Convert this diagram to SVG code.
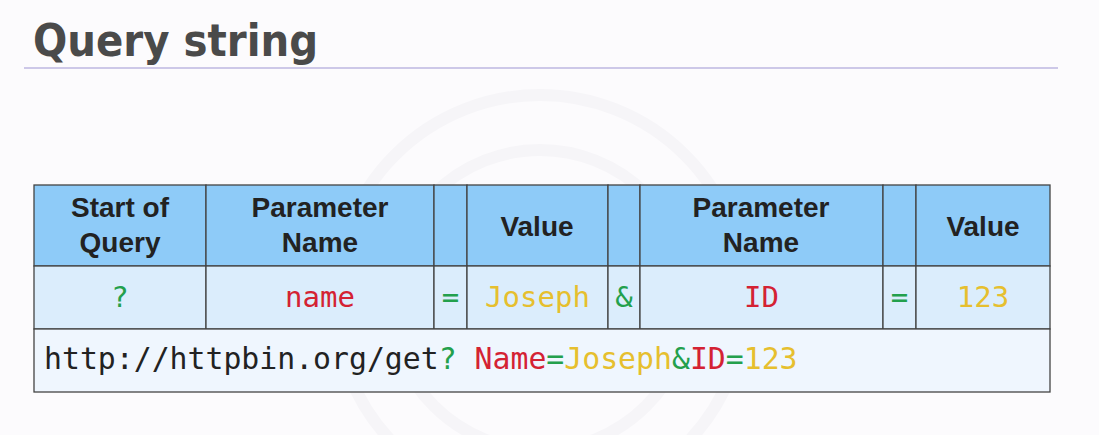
<svg xmlns="http://www.w3.org/2000/svg" width="1099" height="435" viewBox="0 0 1099 435">
<style>
.hd{font-family:"Liberation Sans",Arial,sans-serif;font-weight:bold;font-size:28px;fill:#222;text-anchor:middle}
.mono{font-family:"DejaVu Sans Mono","Liberation Mono",monospace;font-size:29px}
.c{text-anchor:middle}
.g{fill:#23a04c}.r{fill:#d42233}.y{fill:#e6bf2e}.k{fill:#222}
.cell{stroke:#444;stroke-width:1.3}
.h{fill:#8ecbf8}.b{fill:#dbedfc}.u{fill:#eff6fe}
</style>
<rect width="1099" height="435" fill="#fcfbfd"/>
<g id="watermark" fill="none" stroke="#f6f5f8" stroke-width="12">
<circle cx="540" cy="300" r="205"/>
<circle cx="540" cy="300" r="150"/>
</g>
<g id="title">
<text x="33" y="56" font-family="DejaVu Sans Condensed,'DejaVu Sans',sans-serif" font-weight="bold" font-size="44" fill="#4a4a4a" textLength="285" lengthAdjust="spacingAndGlyphs">Query string</text>
<line x1="24" y1="68" x2="1058" y2="68" stroke="#cdc8e8" stroke-width="2"/>
</g>
<g id="header">
<rect class="cell h" x="34" y="185" width="172" height="81"/>
<rect class="cell h" x="206" y="185" width="228" height="81"/>
<rect class="cell h" x="434" y="185" width="33" height="81"/>
<rect class="cell h" x="467" y="185" width="141" height="81"/>
<rect class="cell h" x="608" y="185" width="32" height="81"/>
<rect class="cell h" x="640" y="185" width="243" height="81"/>
<rect class="cell h" x="883" y="185" width="33" height="81"/>
<rect class="cell h" x="916" y="185" width="134" height="81"/>
<text class="hd" x="120" y="217">Start of</text>
<text class="hd" x="120" y="252">Query</text>
<text class="hd" x="320" y="217">Parameter</text>
<text class="hd" x="320" y="252">Name</text>
<text class="hd" x="537" y="236">Value</text>
<text class="hd" x="761" y="217">Parameter</text>
<text class="hd" x="761" y="252">Name</text>
<text class="hd" x="983" y="236">Value</text>
</g>
<g id="values">
<rect class="cell b" x="34" y="266" width="172" height="63"/>
<rect class="cell b" x="206" y="266" width="228" height="63"/>
<rect class="cell b" x="434" y="266" width="33" height="63"/>
<rect class="cell b" x="467" y="266" width="141" height="63"/>
<rect class="cell b" x="608" y="266" width="32" height="63"/>
<rect class="cell b" x="640" y="266" width="243" height="63"/>
<rect class="cell b" x="883" y="266" width="33" height="63"/>
<rect class="cell b" x="916" y="266" width="134" height="63"/>
<text class="mono c g" x="120" y="307">?</text>
<text class="mono c r" x="320" y="307">name</text>
<text class="mono c g" x="450.5" y="307">=</text>
<text class="mono c y" x="537.5" y="307">Joseph</text>
<text class="mono c g" x="624" y="307">&amp;</text>
<text class="mono c r" x="761.5" y="307">ID</text>
<text class="mono c g" x="899.5" y="307">=</text>
<text class="mono c y" x="983" y="307">123</text>
</g>
<g id="url">
<rect class="cell u" x="34" y="329" width="1016" height="63"/>
<text class="mono" x="44" y="369" style="font-size:29.8px"><tspan class="k">http://httpbin.org/get</tspan><tspan class="g">?</tspan><tspan class="r"> Name</tspan><tspan class="g">=</tspan><tspan class="y">Joseph</tspan><tspan class="g">&amp;</tspan><tspan class="r">ID</tspan><tspan class="g">=</tspan><tspan class="y">123</tspan></text>
</g>
</svg>
